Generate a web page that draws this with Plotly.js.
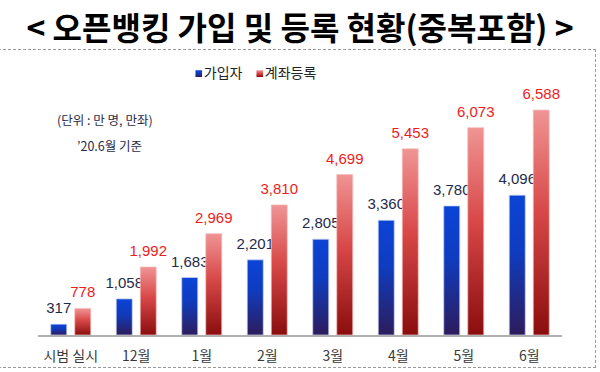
<!DOCTYPE html>
<html>
<head>
<meta charset="utf-8">
<script src="https://cdn.plot.ly/plotly-3.0.1.min.js"></script>
<style>
  html, body { margin: 0; padding: 0; background: #fff; }
  #wrap { position: relative; width: 600px; height: 372px; }
  #chart { width: 600px; height: 372px; }
  #frame { position: absolute; left: -2px; top: 49px; width: 596px; height: 317px;
           border: 1px dashed #9a9a9a; pointer-events: none; }
</style>
</head>
<body>
<div id="wrap">
  <div id="chart"></div>
  <div id="frame"></div>
</div>
<script>
const categories = ['시범 실시', '12월', '1월', '2월', '3월', '4월', '5월', '6월'];
const subscribers = [317, 1058, 1683, 2201, 2805, 3360, 3780, 4096];
const accounts = [778, 1992, 2969, 3810, 4699, 5453, 6073, 6588];
const seriesNames = ['가입자', '계좌등록'];
const titleText = '&lt; 오픈뱅킹 가입 및 등록 현황(중복포함) &gt;';
const noteUnit = '(단위 : 만 명, 만좌)';
const noteDate = '’20.6월 기준';

const kr = '"Noto Sans CJK KR", "Noto Sans", sans-serif';
const num = '"Liberation Sans", Roboto, sans-serif';

const traces = [
  {
    type: 'bar', name: seriesNames[0], x: categories, y: subscribers,
    legendwidth: 16,
    marker: { color: '#1a3cb8', line: { color: 'rgba(200,210,245,0.9)', width: 0.8 } },
    texttemplate: '%{y:,}', textposition: 'outside', cliponaxis: false, constraintext: 'none',
    textfont: { family: num, size: 15, color: '#1f2a4a' },
    hoverinfo: 'x+y'
  },
  {
    type: 'bar', name: seriesNames[1], x: categories, y: accounts,
    marker: { color: '#c83a3a', line: { color: 'rgba(248,190,190,0.9)', width: 0.8 } },
    texttemplate: '%{y:,}', textposition: 'outside', cliponaxis: false, constraintext: 'none',
    textfont: { family: num, size: 15, color: '#ee1c1c' },
    hoverinfo: 'x+y'
  }
];

const layout = {
  width: 600, height: 372,
  margin: { l: 38, r: 38, t: 96, b: 37 },
  paper_bgcolor: '#ffffff', plot_bgcolor: '#ffffff',
  barmode: 'group', bargap: 0.267, bargroupgap: 0.333,
  title: {
    text: titleText, x: 0.5, xanchor: 'center', xref: 'paper',
    y: 1 - 29 / 372, yanchor: 'middle',
    font: { family: kr, size: 32, color: '#000000', weight: 'bold' }
  },
  showlegend: true,
  legend: {
    orientation: 'h', x: 0.240, xanchor: 'left', y: 1.096, yanchor: 'middle',
    font: { family: kr, size: 14, color: '#222222' }, itemwidth: 30,
    bgcolor: 'rgba(0,0,0,0)', traceorder: 'normal'
  },
  xaxis: {
    type: 'category', showgrid: false, zeroline: false,
    showline: true, linecolor: '#b0b0b0', linewidth: 1.5,
    ticks: '', ticklabelstandoff: 8,
    tickfont: { family: kr, size: 14, color: '#3a3a3a' }
  },
  yaxis: {
    range: [0, 7000], visible: false, showgrid: false, zeroline: false
  },
  annotations: [
    { xref: 'paper', yref: 'paper', x: 0.032, y: 0.8996, xanchor: 'left', yanchor: 'middle',
      text: noteUnit, showarrow: false, font: { family: kr, size: 12.5, color: '#1f2a4a' } },
    { xref: 'paper', yref: 'paper', x: 0.0706, y: 0.791, xanchor: 'left', yanchor: 'middle',
      text: noteDate, showarrow: false, font: { family: kr, size: 12.5, color: '#1f2a4a' } }
  ]
};

function addGradients(gd) {
  const svg = gd.querySelector('svg.main-svg');
  const ns = 'http://www.w3.org/2000/svg';
  let defs = svg.querySelector('defs');
  if (!defs) { defs = document.createElementNS(ns, 'defs'); svg.insertBefore(defs, svg.firstChild); }
  const grads = {
    gBlue: [['0%', '#0b44d6'], ['40%', '#0f3cc0'], ['100%', '#2d1c5c']],
    gRed: [['0%', '#f09494'], ['45%', '#d84848'], ['100%', '#8a0d0d']]
  };
  Object.keys(grads).forEach(id => {
    const lg = document.createElementNS(ns, 'linearGradient');
    lg.setAttribute('id', id);
    lg.setAttribute('x1', '0'); lg.setAttribute('y1', '0');
    lg.setAttribute('x2', '0'); lg.setAttribute('y2', '1');
    grads[id].forEach(([off, col]) => {
      const st = document.createElementNS(ns, 'stop');
      st.setAttribute('offset', off); st.setAttribute('stop-color', col);
      lg.appendChild(st);
    });
    defs.appendChild(lg);
  });
  const ids = ['gBlue', 'gRed'];
  gd.querySelectorAll('.barlayer .trace').forEach((t, i) => {
    t.querySelectorAll('path').forEach(p => { p.style.fill = 'url(#' + ids[i] + ')'; });
    t.querySelectorAll('text.bartext').forEach(tx => {
      tx.setAttribute('transform', 'translate(0,-5) ' + (tx.getAttribute('transform') || ''));
    });
  });
  gd.querySelectorAll('.legend .traces').forEach((t, i) => {
    t.querySelectorAll('.legendpoints path').forEach(p => {
      p.style.fill = 'url(#' + ids[i] + ')';
      p.style.strokeWidth = '0';
      p.setAttribute('transform', 'translate(35,1) scale(0.55)');
    });
  });
}

Plotly.newPlot('chart', traces, layout, { staticPlot: true, displayModeBar: false })
  .then(addGradients);
</script>
</body>
</html>
